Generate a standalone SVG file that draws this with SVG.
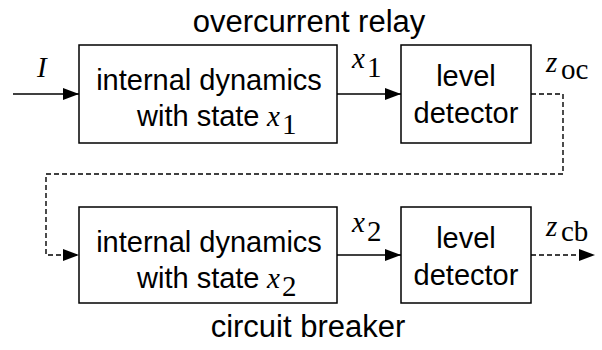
<svg xmlns="http://www.w3.org/2000/svg" width="602" height="350" viewBox="0 0 602 350">
<defs>
<marker id="ah" markerWidth="16" markerHeight="12" refX="16" refY="6" orient="auto" markerUnits="userSpaceOnUse">
<path d="M0,0 L16,6 L0,12 Z" fill="#000"/>
</marker>
<style>
.box{fill:#fff;stroke:#000;stroke-width:1.5}
.t{font-family:"Liberation Sans",Arial,sans-serif;font-size:29px;fill:#000}
.title{font-family:"Liberation Sans",Arial,sans-serif;font-size:31px;fill:#000;text-anchor:middle}
.m{font-family:"Liberation Serif","Times New Roman",serif;font-size:29px;fill:#000}
.mi{font-style:italic}
.c{text-anchor:middle}
.ln{fill:none;stroke:#000;stroke-width:1.5}
.dash{fill:none;stroke:#000;stroke-width:1.4;stroke-dasharray:5 3}
</style>
</defs>
<rect width="602" height="350" fill="#fff"/>
<text class="title" x="309" y="32">overcurrent relay</text>
<text class="title" x="308" y="337">circuit breaker</text>
<g id="dyn1">
<rect class="box" x="79" y="45" width="258" height="98"/>
<text class="t c" x="209" y="90">internal dynamics</text>
<text class="t" x="137" y="126">with state</text>
<text class="m mi" x="267" y="126">x</text>
<text class="m" x="282" y="134">1</text>
</g>
<g id="lvl1">
<rect class="box" x="401" y="45" width="130" height="98"/>
<text class="t c" x="466" y="86">level</text>
<text class="t c" x="466" y="123">detector</text>
</g>
<g id="dyn2">
<rect class="box" x="79" y="207" width="258" height="96"/>
<text class="t c" x="209" y="252">internal dynamics</text>
<text class="t" x="137" y="288">with state</text>
<text class="m mi" x="267" y="288">x</text>
<text class="m" x="282" y="296">2</text>
</g>
<g id="lvl2">
<rect class="box" x="401" y="207" width="130" height="96"/>
<text class="t c" x="466" y="248">level</text>
<text class="t c" x="466" y="285">detector</text>
</g>
<g id="connectors">
<line class="ln" x1="13" y1="94" x2="79" y2="94" marker-end="url(#ah)"/>
<line class="ln" x1="337" y1="94" x2="401" y2="94" marker-end="url(#ah)"/>
<path class="dash" d="M531,94 H563 V174 H46 V255 H79" marker-end="url(#ah)"/>
<line class="ln" x1="337" y1="255" x2="401" y2="255" marker-end="url(#ah)"/>
<line class="dash" x1="531" y1="255" x2="595" y2="255" marker-end="url(#ah)"/>
</g>
<g id="labels">
<text class="m mi" x="37" y="77">I</text>
<text class="m mi" x="352" y="68">x</text>
<text class="m" x="367" y="77">1</text>
<text class="m mi" x="546" y="72">z</text>
<text class="m" x="561" y="79">oc</text>
<text class="m mi" x="352" y="232">x</text>
<text class="m" x="367" y="241">2</text>
<text class="m mi" x="546" y="236">z</text>
<text class="m" x="561" y="241">cb</text>
</g>
</svg>
